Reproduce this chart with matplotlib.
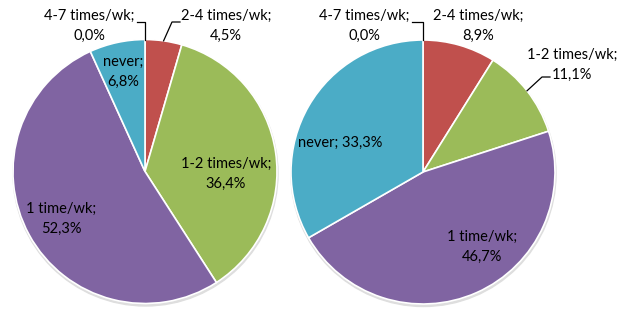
import matplotlib
matplotlib.use("Agg")
import matplotlib.pyplot as plt
import numpy as np
from matplotlib.patches import Circle

plt.rcParams['font.family'] = ['Lato', 'DejaVu Sans']

# data
categories = ['4-7 times/wk', '2-4 times/wk', '1-2 times/wk', '1 time/wk', 'never']
left_values = [0.0, 4.5, 36.4, 52.3, 6.8]
right_values = [0.0, 8.9, 11.1, 46.7, 33.3]
colors = ['#4F81BD', '#C0504D', '#9BBB59', '#8064A2', '#4BACC6']

W, H = 624, 309


def fmt(cat, v, sep=';\n'):
	return cat + sep + ('%.1f%%' % v).replace('.', ',')


def edge_point(values, i, center, radius):
	# point on the rim at the middle of wedge i (clockwise from top)
	before = sum(values[:i])
	ang = np.deg2rad(90 - (before + values[i] / 2.0) * 3.6)
	return center[0] + radius * np.cos(ang), center[1] + radius * np.sin(ang)


def draw_pie(ax, values, center, radius):
	sh = Circle((center[0] + 0.5, center[1] - 2), radius + 0.5, color='#dedede', zorder=0)
	ax.add_patch(sh)
	ax.pie(values, colors=colors, startangle=90, counterclock=False,
		center=center, radius=radius,
		wedgeprops=dict(edgecolor='white', linewidth=1.2), frame=True)


fig = plt.figure(figsize=(W / 100.0, H / 100.0), dpi=100)
ax = fig.add_axes([0, 0, 1, 1])

# pixel-space layout (y up)
lc = (145, H - 171.5)
rc = (423, H - 172)
rad = 132

draw_pie(ax, left_values, lc, rad)
draw_pie(ax, right_values, rc, rad)

fs = 10.5
tk = dict(fontsize=fs, ha='center', va='center', color='black', linespacing=1.5)

# left pie labels
ax.text(89, H - 26, fmt(categories[0], left_values[0]), **tk)
ax.text(226, H - 26, fmt(categories[1], left_values[1]), **tk)
ax.text(226, H - 174, fmt(categories[2], left_values[2]), **tk)
ax.text(61, H - 219, fmt(categories[3], left_values[3]), **tk)
ax.text(123, H - 72, fmt(categories[4], left_values[4]), **tk)

# right pie labels
ax.text(364, H - 26, fmt(categories[0], right_values[0]), **tk)
ax.text(478, H - 26, fmt(categories[1], right_values[1]), **tk)
ax.text(572, H - 65, fmt(categories[2], right_values[2]), **tk)
ax.text(482, H - 247, fmt(categories[3], right_values[3]), **tk)
ax.text(340, H - 143, fmt(categories[4], right_values[4], sep='; '), **tk)

# leader lines
lk = dict(color='black', lw=0.9, zorder=5)
x0, y0 = edge_point(left_values, 0, lc, rad)
ax.plot([x0, x0, 137], [y0, H - 22, H - 22], **lk)
x0, y0 = edge_point(left_values, 1, lc, rad)
ax.plot([x0, 172, 180], [y0, H - 22, H - 22], **lk)
x0, y0 = edge_point(right_values, 0, rc, rad)
ax.plot([x0, x0, 412], [y0, H - 22, H - 22], **lk)
x0, y0 = edge_point(right_values, 2, rc, rad)
ax.plot([x0, 542, 550], [y0, H - 77, H - 77], **lk)

ax.set_xlim(0, W)
ax.set_ylim(0, H)
ax.set_aspect('equal')
ax.axis('off')

fig.savefig('out.png', dpi=100)
